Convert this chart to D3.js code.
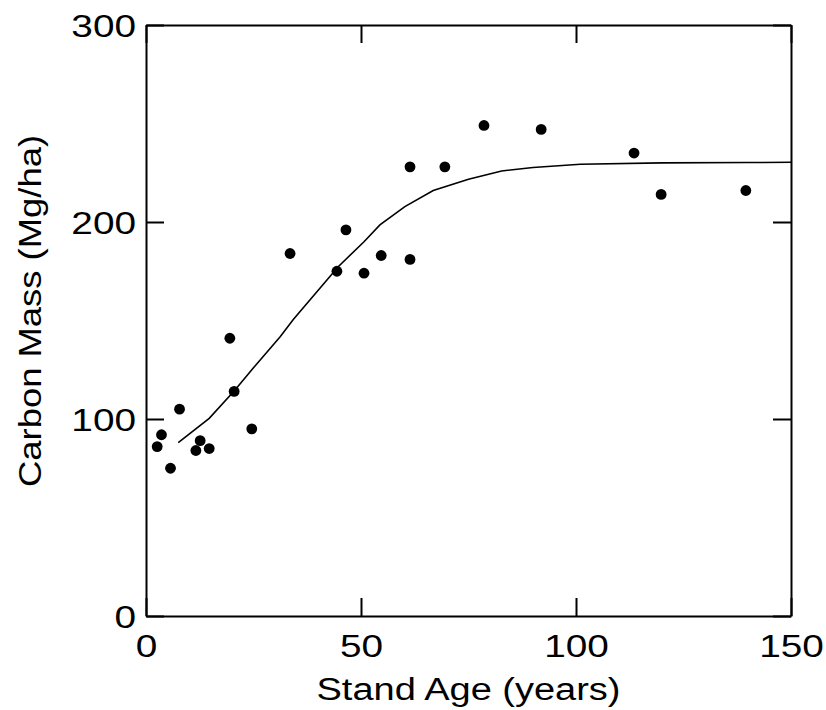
<!DOCTYPE html>
<html><head><meta charset="utf-8">
<script src="https://cdn.jsdelivr.net/npm/d3@7"></script>
<style>body{margin:0;background:#fff}svg{display:block}</style>
</head><body>
<script>
const ageData = [2.6,3.6,5.7,7.8,11.6,12.6,14.7,19.5,20.5,24.6,33.5,44.4,46.5,50.7,54.7,61.4,61.4,69.5,78.6,91.9,113.5,119.8,139.5];
const carbonData = [86,92,75,105,84,89,85,141,114,95,184,175,196,174,183,228,181,228,249,247,235,214,216];
const fitAge = [7.5,14.7,20.5,25,31.2,34.3,44.7,50.7,54.4,60.2,66.8,75,82.7,90,101,120,140,150];
const fitCarbon = [88,100.3,114.2,126,141.8,150.6,177.3,190,198.5,207.8,216,221.7,225.9,227.7,229.3,230,230.2,230.3];
const xTicks = [0,50,100,150];
const yTicks = [0,100,200,300];

const W=826,H=710;
const m={l:146,r:826-791,t:25,b:710-616};
const svg=d3.select("body").append("svg").attr("width",W).attr("height",H);
const x=d3.scaleLinear().domain([0,150]).range([m.l,W-m.r]);
const y=d3.scaleLinear().domain([0,300]).range([H-m.b,m.t]);
const font="Liberation Sans, Arial, sans-serif";

function stretch(sel,f){
  sel.each(function(){
    const len=this.getComputedTextLength();
    d3.select(this).attr("textLength",len*f).attr("lengthAdjust","spacingAndGlyphs");
  });
}

// axes with inward ticks
const tl=18;
const gB=svg.append("g").attr("transform",`translate(0,${y(0)})`).call(d3.axisBottom(x).tickValues(xTicks).tickSizeInner(-tl).tickSizeOuter(0).tickPadding(19));
const gT=svg.append("g").attr("transform",`translate(0,${y(300)})`).call(d3.axisTop(x).tickValues(xTicks).tickSizeInner(-tl).tickSizeOuter(0).tickFormat(""));
const gL=svg.append("g").attr("transform",`translate(${x(0)},0)`).call(d3.axisLeft(y).tickValues(yTicks).tickSizeInner(-tl).tickSizeOuter(0).tickPadding(10));
const gR=svg.append("g").attr("transform",`translate(${x(150)},0)`).call(d3.axisRight(y).tickValues(yTicks).tickSizeInner(-tl).tickSizeOuter(0).tickFormat(""));
[gB,gT,gL,gR].forEach(g=>{
  g.select(".domain").attr("stroke","#000").attr("stroke-width",2);
  g.selectAll(".tick line").attr("stroke","#000").attr("stroke-width",2);
  g.selectAll(".tick text").attr("font-family",font).attr("font-size",31).attr("fill","#000");
});
gL.selectAll(".tick text").attr("dy","0.36em");
stretch(gB.selectAll(".tick text"),1.25);
stretch(gL.selectAll(".tick text"),1.25);

// fit curve
svg.append("path").datum(fitAge.map((a,i)=>[a,fitCarbon[i]]))
  .attr("fill","none").attr("stroke","#000").attr("stroke-width",1.6)
  .attr("d",d3.line().x(d=>x(d[0])).y(d=>y(d[1])));

// points
svg.append("g").selectAll("circle").data(ageData.map((a,i)=>[a,carbonData[i]])).join("circle")
  .attr("cx",d=>x(d[0])).attr("cy",d=>y(d[1])).attr("r",5.4).attr("fill","#000");

// titles
const xt=svg.append("text").attr("x",(x(0)+x(150))/2).attr("y",700).attr("text-anchor","middle")
  .attr("font-family",font).attr("font-size",31).text("Stand Age (years)");
xt.attr("textLength",304).attr("lengthAdjust","spacingAndGlyphs");
const yt=svg.append("text").attr("transform",`translate(41,311) rotate(-90)`).attr("text-anchor","middle")
  .attr("font-family",font).attr("font-size",32).text("Carbon Mass (Mg/ha)");
yt.attr("textLength",352).attr("lengthAdjust","spacingAndGlyphs");
</script>
</body></html>
